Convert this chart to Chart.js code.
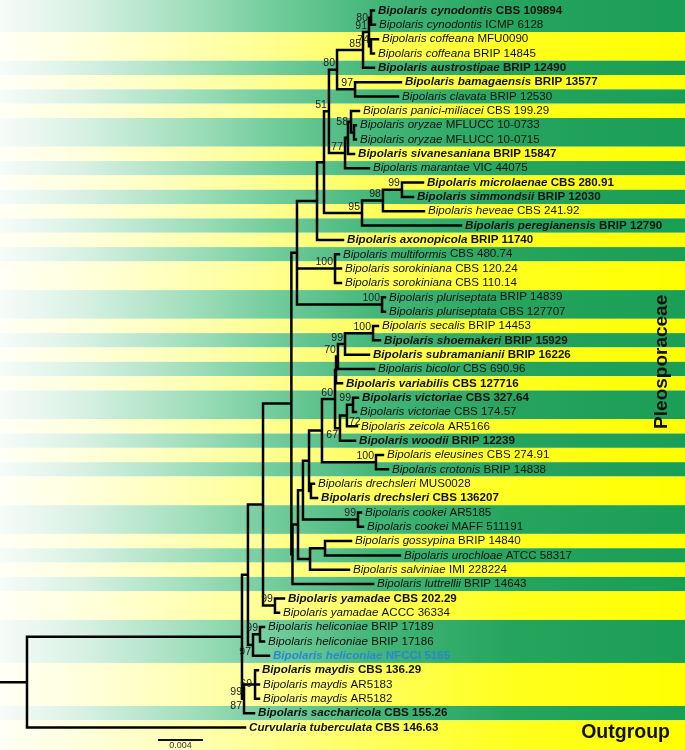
<!DOCTYPE html>
<html>
<head>
<meta charset="utf-8">
<script src="https://cdn.jsdelivr.net/npm/chart.js@4.4.0/dist/chart.umd.min.js"></script>
<style>
  html, body { margin: 0; padding: 0; background: #fff; }
  #tree { display: block; }
</style>
</head>
<body>
<canvas id="tree" width="685" height="750"></canvas>
<script>
// leaves, top to bottom (italic part / strain)
const taxa = [
    'Bipolaris cynodontis', 'Bipolaris cynodontis', 'Bipolaris coffeana', 'Bipolaris coffeana',
    'Bipolaris austrostipae', 'Bipolaris bamagaensis', 'Bipolaris clavata', 'Bipolaris panici-miliacei',
    'Bipolaris oryzae', 'Bipolaris oryzae', 'Bipolaris sivanesaniana', 'Bipolaris marantae',
    'Bipolaris microlaenae', 'Bipolaris simmondsii', 'Bipolaris heveae', 'Bipolaris peregianensis',
    'Bipolaris axonopicola', 'Bipolaris multiformis', 'Bipolaris sorokiniana', 'Bipolaris sorokiniana',
    'Bipolaris pluriseptata', 'Bipolaris pluriseptata', 'Bipolaris secalis', 'Bipolaris shoemakeri',
    'Bipolaris subramanianii', 'Bipolaris bicolor', 'Bipolaris variabilis', 'Bipolaris victoriae',
    'Bipolaris victoriae', 'Bipolaris zeicola', 'Bipolaris woodii', 'Bipolaris eleusines',
    'Bipolaris crotonis', 'Bipolaris drechsleri', 'Bipolaris drechsleri', 'Bipolaris cookei',
    'Bipolaris cookei', 'Bipolaris gossypina', 'Bipolaris urochloae', 'Bipolaris salviniae',
    'Bipolaris luttrellii', 'Bipolaris yamadae', 'Bipolaris yamadae', 'Bipolaris heliconiae',
    'Bipolaris heliconiae', 'Bipolaris heliconiae', 'Bipolaris maydis', 'Bipolaris maydis',
    'Bipolaris maydis', 'Bipolaris saccharicola', 'Curvularia tuberculata'
];
const strains = [
    'CBS 109894', 'ICMP 6128', 'MFU0090', 'BRIP 14845', 'BRIP 12490', 'BRIP 13577', 'BRIP 12530',
    'CBS 199.29', 'MFLUCC 10-0733', 'MFLUCC 10-0715', 'BRIP 15847', 'VIC 44075', 'CBS 280.91',
    'BRIP 12030', 'CBS 241.92', 'BRIP 12790', 'BRIP 11740', 'CBS 480.74', 'CBS 120.24', 'CBS 110.14',
    'BRIP 14839', 'CBS 127707', 'BRIP 14453', 'BRIP 15929', 'BRIP 16226', 'CBS 690.96', 'CBS 127716',
    'CBS 327.64', 'CBS 174.57', 'AR5166', 'BRIP 12239', 'CBS 274.91', 'BRIP 14838', 'MUS0028',
    'CBS 136207', 'AR5185', 'MAFF 511191', 'BRIP 14840', 'ATCC 58317', 'IMI 228224', 'BRIP 14643',
    'CBS 202.29', 'ACCC 36334', 'BRIP 17189', 'BRIP 17186', 'NFCCI 5165', 'CBS 136.29', 'AR5183',
    'AR5182', 'CBS 155.26', 'CBS 146.63'
];
const boldTaxa = [0, 4, 5, 10, 12, 13, 15, 16, 23, 24, 26, 27, 30, 34, 41, 45, 46, 49, 50];
const newIsolate = 45;

// tip depth of each leaf (x 0.001 substitutions/site)
const tipDepth = [
    33.24, 33.33, 33.60, 33.24, 33.24, 35.64, 35.38, 31.91, 31.64, 31.64,
    31.47, 32.80, 37.60, 36.71, 37.69, 40.98, 30.49, 30.13, 30.31, 30.31,
    34.22, 34.22, 33.60, 33.78, 32.80, 33.24, 30.40, 31.82, 31.64, 31.73,
    31.56, 34.04, 34.49, 27.91, 28.18, 32.09, 32.27, 31.20, 35.56, 31.02,
    33.16, 25.24, 24.80, 23.47, 23.47, 23.91, 22.93, 23.02, 23.02, 22.58,
    21.78
];

// internal nodes: name, depth, children (leaf index or node name)
const clades = [
    ['cyn', 32.98, [0, 1]], ['cof', 32.98, [2, 3]], ['cc', 32.80, ['cyn', 'cof']],
    ['c85', 32.27, ['cc', 4]], ['c97', 31.56, [5, 6]], ['c80', 29.96, ['c85', 'c97']],
    ['ory', 31.47, [8, 9]], ['c58', 31.20, [7, 'ory']], ['c77', 30.93, ['c58', 10]],
    ['mar', 30.67, ['c77', 11]], ['c51', 29.24, ['c80', 'mar']],
    ['c99m', 35.73, [12, 13]], ['c98', 34.04, ['c99m', 14]], ['c95', 32.18, ['c98', 15]],
    ['n324', 28.80, ['c51', 'c95']], ['n317', 28.18, ['n324', 16]],
    ['soro', 29.78, [17, 18, 19]], ['pluri', 33.96, [20, 21]],
    ['n297', 26.40, ['n317', 'soro', 'pluri']],
    ['sec', 33.16, [22, 23]], ['c99s', 30.67, ['sec', 24]], ['c70', 30.04, ['c99s', 25]],
    ['n336', 29.87, ['c70', 26]], ['vict', 31.38, [27, 28]], ['c72', 30.84, ['vict', 29]],
    ['c67', 30.22, ['c72', 30]], ['c60', 29.78, ['n336', 'c67']], ['eleu', 33.42, [31, 32]],
    ['n322', 28.62, ['c60', 'eleu']], ['drech', 27.64, [33, 34]], ['n309', 27.47, ['n322', 'drech']],
    ['cook', 31.82, [35, 36]], ['n303', 26.93, ['n309', 'cook']],
    ['gu', 28.89, [37, 38]], ['n310', 27.56, ['gu', 39]], ['n298', 26.49, ['n303', 'n310']],
    ['n293', 26.00, ['n298', 40]], ['n291', 25.90, ['n297', 'n293']],
    ['yam', 24.44, [41, 42]], ['n263', 23.38, ['n291', 'yam']],
    ['hel', 23.11, [43, 44]], ['hel3', 22.49, ['hel', 45]], ['n248', 22.04, ['n263', 'hel3']],
    ['may', 22.67, [46, 47, 48]], ['ms', 21.69, ['may', 49]], ['n242', 21.51, ['n248', 'ms']],
    ['root', 2.40, ['n242', 50]]
];
const rootBase = 0;

// bootstrap support: value, node, placement
const support = [
    ['80', 'cyn', 'l'], ['91', 'cc', 'a'], ['74', 'cof', 'a'], ['85', 'c85', 'a'],
    ['80', 'c80', 'a'], ['97', 'c97', 'a'], ['51', 'c51', 'a'], ['58', 'c58', 'l'],
    ['77', 'mar', 'a'], ['99', 'c99m', 'a'], ['98', 'c98', 'a'], ['95', 'c95', 'a'],
    ['100', 'soro', 'a'], ['100', 'pluri', 'a'], ['100', 'sec', 'a'], ['99', 'c99s', 'a'],
    ['70', 'c70', 'a'], ['60', 'c60', 'a'], ['99', 'vict', 'a'], ['72', 'c72', 'r'],
    ['67', 'c67', 'b'], ['100', 'eleu', 'a'], ['99', 'cook', 'a'], ['99', 'yam', 'a'],
    ['99', 'hel', 'a'], ['97', 'hel3', 'b'], ['69', 'may', 'l'], ['99', 'ms', 'a'], ['87', 'ms', 'b']
];

// species bands (first leaf, last leaf), alternating green / yellow
const speciesRows = [
    [0, 1], [2, 3], [4, 4], [5, 5], [6, 6], [7, 7], [8, 9], [10, 10], [11, 11], [12, 12],
    [13, 13], [14, 14], [15, 15], [16, 16], [17, 17], [18, 19], [20, 21], [22, 22], [23, 23],
    [24, 24], [25, 25], [26, 26], [27, 28], [29, 29], [30, 30], [31, 31], [32, 32], [33, 34],
    [35, 36], [37, 37], [38, 38], [39, 39], [40, 40], [41, 42], [43, 45], [46, 48], [49, 49], [50, 50]
];

const scaleBarLength = 4;   // 0.004
const scaleBarStart = 14.04;
const scaleBarLabel = '0.004';

const FAM = '"Liberation Sans", Arial, sans-serif';

const cladeByName = {};
clades.forEach(c => { cladeByName[c[0]] = c; });

function yOf(ref) {
    if (typeof ref === 'number') return ref;
    const kids = cladeByName[ref][2];
    return (yOf(kids[0]) + yOf(kids[kids.length - 1])) / 2;
}
function xOf(ref) {
    return typeof ref === 'number' ? tipDepth[ref] : cladeByName[ref][1];
}

const treePts = [];
function seg(x1, y1, x2, y2) {
    treePts.push({x: x1, y: y1}, {x: x2, y: y2}, {x: null, y: null});
}
clades.forEach(([name, d, kids]) => {
    seg(d, yOf(kids[0]), d, yOf(kids[kids.length - 1]));
    kids.forEach(k => seg(d, yOf(k), xOf(k), yOf(k)));
});
seg(rootBase, yOf('root'), cladeByName.root[1], yOf('root'));

const scaleBarY = 50.87;
const scalePts = [{x: scaleBarStart, y: scaleBarY}, {x: scaleBarStart + scaleBarLength, y: scaleBarY}];

const bands = {
    id: 'bands',
    beforeDatasetsDraw(chart) {
        const {ctx, chartArea: a, scales: {y}} = chart;
        ctx.save();
        speciesRows.forEach((r, k) => {
            const top = k === 0 ? a.top : y.getPixelForValue(r[0] - 0.5);
            const bot = k === speciesRows.length - 1 ? a.bottom : y.getPixelForValue(r[1] + 0.5);
            const g = ctx.createLinearGradient(a.left, 0, a.right, 0);
            if (k % 2 === 0) {
                g.addColorStop(0, '#f6fcf9');
                g.addColorStop(0.12, '#d8f1e4');
                g.addColorStop(0.28, '#a0debb');
                g.addColorStop(0.4, '#72cc9c');
                g.addColorStop(0.55, '#43b678');
                g.addColorStop(0.75, '#25a45e');
                g.addColorStop(1, '#1a9e55');
            } else {
                g.addColorStop(0, '#fffff6');
                g.addColorStop(0.15, '#ffffd6');
                g.addColorStop(0.35, '#ffffa0');
                g.addColorStop(0.55, '#ffff5a');
                g.addColorStop(0.75, '#ffff1e');
                g.addColorStop(1, '#ffff00');
            }
            ctx.fillStyle = g;
            ctx.fillRect(a.left, top, a.right - a.left, bot - top);
        });
        ctx.restore();
    }
};

const labels = {
    id: 'labels',
    afterDatasetsDraw(chart) {
        const {ctx, chartArea: a, scales: {x, y}} = chart;
        ctx.save();
        ctx.textBaseline = 'middle';
        ctx.textAlign = 'left';
        const fs = 11.6;
        taxa.forEach((name, i) => {
            const px = x.getPixelForValue(tipDepth[i]) + 4;
            const py = y.getPixelForValue(i);
            const b = boldTaxa.includes(i) ? 'bold ' : '';
            ctx.fillStyle = i === newIsolate ? '#2a86d4' : '#111';
            ctx.font = 'italic ' + b + fs + 'px ' + FAM;
            ctx.fillText(name, px, py);
            const w = ctx.measureText(name + ' ').width;
            ctx.font = b + fs + 'px ' + FAM;
            ctx.fillText(strains[i], px + w, py);
        });

        // support values
        ctx.fillStyle = '#222';
        ctx.font = '10.5px ' + FAM;
        support.forEach(([val, node, place]) => {
            const nx = x.getPixelForValue(cladeByName[node][1]);
            const ny = y.getPixelForValue(yOf(node));
            if (place === 'a') {
                ctx.textAlign = 'right'; ctx.textBaseline = 'bottom';
                ctx.fillText(val, nx - 2, ny - 1);
            } else if (place === 'b') {
                ctx.textAlign = 'right'; ctx.textBaseline = 'top';
                ctx.fillText(val, nx - 2, ny + 2);
            } else if (place === 'l') {
                ctx.textAlign = 'right'; ctx.textBaseline = 'middle';
                ctx.fillText(val, nx - 3, ny);
            } else {
                ctx.textAlign = 'left'; ctx.textBaseline = 'top';
                ctx.fillText(val, nx + 2, ny + 1);
            }
        });

        // scale bar label
        ctx.textAlign = 'center';
        ctx.textBaseline = 'middle';
        ctx.font = '9px ' + FAM;
        ctx.fillStyle = '#333';
        ctx.fillText(scaleBarLabel,
            x.getPixelForValue(scaleBarStart + scaleBarLength / 2),
            y.getPixelForValue(scaleBarY) + 6);

        // family / outgroup
        ctx.fillStyle = '#111';
        ctx.font = 'bold 19px ' + FAM;
        ctx.save();
        ctx.translate(a.right - 23, y.getPixelForValue(24.5));
        ctx.rotate(-Math.PI / 2);
        ctx.textAlign = 'center';
        ctx.textBaseline = 'middle';
        ctx.fillText('Pleosporaceae', 0, 0);
        ctx.restore();
        ctx.font = 'bold 19.5px ' + FAM;
        ctx.textAlign = 'right';
        ctx.textBaseline = 'middle';
        ctx.fillText('Outgroup', a.right - 15, y.getPixelForValue(50) + 5);
        ctx.restore();
    }
};

new Chart(document.getElementById('tree').getContext('2d'), {
    type: 'scatter',
    data: {
        datasets: [{
            data: treePts,
            showLine: true,
            spanGaps: false,
            pointRadius: 0,
            borderColor: '#000',
            borderWidth: 2.5,
            borderCapStyle: 'square',
            clip: false
        }, {
            data: scalePts,
            showLine: true,
            pointRadius: 0,
            borderColor: '#111',
            borderWidth: 2,
            clip: false
        }]
    },
    options: {
        responsive: false,
        animation: false,
        devicePixelRatio: 1,
        events: [],
        layout: { padding: 0 },
        scales: {
            x: { type: 'linear', min: 0, max: 60.89, display: false },
            y: { type: 'linear', min: -0.732, max: 51.57, reverse: true, display: false }
        },
        plugins: {
            legend: { display: false },
            tooltip: { enabled: false }
        }
    },
    plugins: [bands, labels]
});
</script>
</body>
</html>
